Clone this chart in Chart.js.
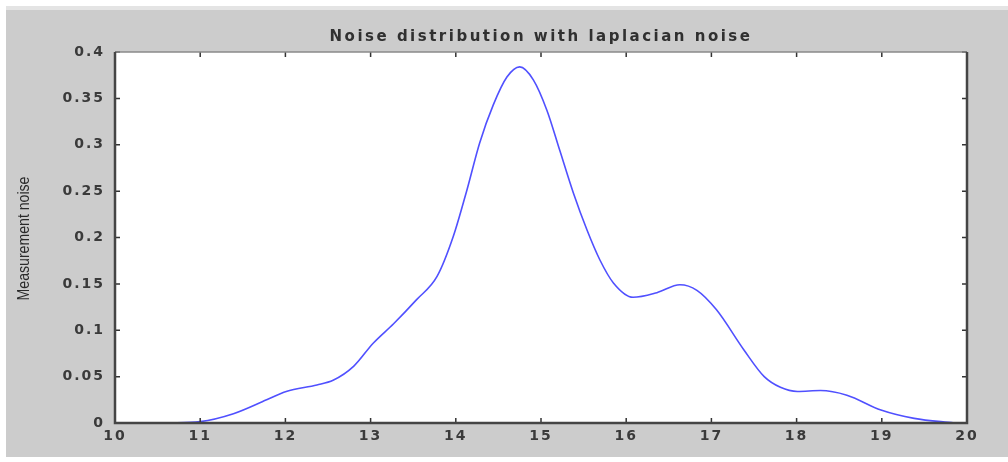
<!DOCTYPE html>
<html>
<head>
<meta charset="utf-8">
<script src="https://cdn.jsdelivr.net/npm/chart.js@4/dist/chart.umd.min.js"></script>
<style>
  html, body { margin: 0; padding: 0; background: #ffffff; }
  #wrap { position: absolute; left: 0; top: 0; width: 1008px; height: 462px; }
</style>
</head>
<body>
<div id="wrap"><canvas id="noiseChart" width="1008" height="462"></canvas></div>
<script>
const TITLE = 'Noise distribution with laplacian noise';
const Y_TITLE = 'Measurement noise';

// x positions along the curve and the measured noise density at each
const noiseX = [10.61, 11.0, 11.39, 11.78, 12.01, 12.37, 12.56, 12.80, 13.03, 13.27,
                13.54, 13.78, 13.97, 14.13, 14.28, 14.44, 14.60, 14.75, 14.91, 15.07,
                15.22, 15.38, 15.54, 15.69, 15.85, 16.08, 16.36, 16.63, 16.83, 17.06,
                17.38, 17.62, 17.81, 18.01, 18.28, 18.59, 18.99, 19.38, 19.85];
const noiseY = [0, 0.0015, 0.010, 0.025, 0.034, 0.041, 0.046, 0.061, 0.086, 0.107,
                0.133, 0.158, 0.201, 0.251, 0.302, 0.343, 0.373, 0.384, 0.370, 0.337,
                0.294, 0.248, 0.208, 0.176, 0.151, 0.1355, 0.1405, 0.149, 0.143, 0.122,
                0.079, 0.050, 0.0385, 0.034, 0.035, 0.030, 0.014, 0.005, 0];

const xRange = [10, 20];
const yRange = [0, 0.4];

const tickFont = { family: '"DejaVu Sans"', size: 14, weight: 'bold' };

// matlab-ish figure background, white axes box, inside ticks on all sides
const figurePlugin = {
  id: 'figure',
  beforeDraw(chart){
    const ctx = chart.ctx;
    const a = chart.chartArea;
    ctx.save();
    ctx.fillStyle = '#ffffff';
    ctx.fillRect(0, 0, chart.width, chart.height);
    ctx.fillStyle = '#e4e4e4';
    ctx.fillRect(6, 6, chart.width - 6, 4);
    ctx.fillStyle = '#cccccc';
    ctx.fillRect(6, 10, chart.width - 6, 447);
    ctx.fillStyle = '#ffffff';
    ctx.fillRect(a.left, a.top, a.right - a.left, a.bottom - a.top);
    ctx.restore();
    ctx.letterSpacing = '2px';
  },
  afterDatasetsDraw(chart){
    const ctx = chart.ctx;
    const a = chart.chartArea;
    const xs = chart.scales.x, ys = chart.scales.y;
    ctx.save();
    ctx.letterSpacing = '0px';
    // ticks
    ctx.strokeStyle = '#333333';
    ctx.lineWidth = 1.5;
    ctx.beginPath();
    xs.ticks.forEach(t => {
      const px = xs.getPixelForValue(t.value);
      ctx.moveTo(px, a.bottom); ctx.lineTo(px, a.bottom - 5);
      ctx.moveTo(px, a.top); ctx.lineTo(px, a.top + 5);
    });
    ys.ticks.forEach(t => {
      const py = ys.getPixelForValue(t.value);
      ctx.moveTo(a.left, py); ctx.lineTo(a.left + 5, py);
      ctx.moveTo(a.right, py); ctx.lineTo(a.right - 5, py);
    });
    ctx.stroke();
    // box
    ctx.strokeStyle = '#8a8a8a';
    ctx.lineWidth = 1.5;
    ctx.beginPath();
    ctx.moveTo(a.left, a.top); ctx.lineTo(a.right, a.top);
    ctx.stroke();
    ctx.strokeStyle = '#454545';
    ctx.lineWidth = 2.5;
    ctx.beginPath();
    ctx.moveTo(a.left, a.top); ctx.lineTo(a.left, a.bottom);
    ctx.lineTo(a.right, a.bottom); ctx.lineTo(a.right, a.top);
    ctx.stroke();
    // title
    ctx.fillStyle = '#303030';
    ctx.font = 'bold 15px "DejaVu Sans"';
    ctx.letterSpacing = '2.5px';
    ctx.textAlign = 'center';
    ctx.textBaseline = 'middle';
    ctx.fillText(TITLE, (a.left + a.right) / 2, 37);
    // y axis title, tall and narrow
    ctx.letterSpacing = '0px';
    ctx.font = '17px "Liberation Sans"';
    ctx.translate(24, (a.top + a.bottom) / 2 + 1);
    ctx.rotate(-Math.PI / 2);
    ctx.scale(0.83, 1);
    ctx.fillStyle = '#2a2a2a';
    ctx.fillText(Y_TITLE, 0, 0);
    ctx.restore();
  }
};

const points = noiseX.map((x, i) => ({ x: x, y: noiseY[i] }));

new Chart(document.getElementById('noiseChart').getContext('2d'), {
  type: 'line',
  data: {
    datasets: [{
      data: points,
      borderColor: '#5050ff',
      borderWidth: 1.6,
      pointRadius: 0,
      cubicInterpolationMode: 'monotone',
      fill: false
    }]
  },
  options: {
    responsive: false,
    animation: false,
    layout: { padding: { left: 0, right: 41, top: 52, bottom: 0 } },
    plugins: { legend: { display: false }, tooltip: { enabled: false }, title: { display: false } },
    scales: {
      x: {
        type: 'linear',
        min: xRange[0], max: xRange[1],
        grid: { display: false, drawTicks: false },
        border: { display: false },
        ticks: { stepSize: 1, color: '#3a3a3a', font: tickFont, padding: 5, maxRotation: 0 },
        afterFit(scale){ scale.height = 39; }
      },
      y: {
        min: yRange[0], max: yRange[1],
        grid: { display: false, drawTicks: false },
        border: { display: false },
        ticks: {
          stepSize: 0.05, color: '#3a3a3a', font: tickFont, padding: 10,
          callback: v => String(+Number(v).toFixed(2))
        },
        afterFit(scale){ scale.width = 115; }
      }
    }
  },
  plugins: [figurePlugin]
});
</script>
</body>
</html>
